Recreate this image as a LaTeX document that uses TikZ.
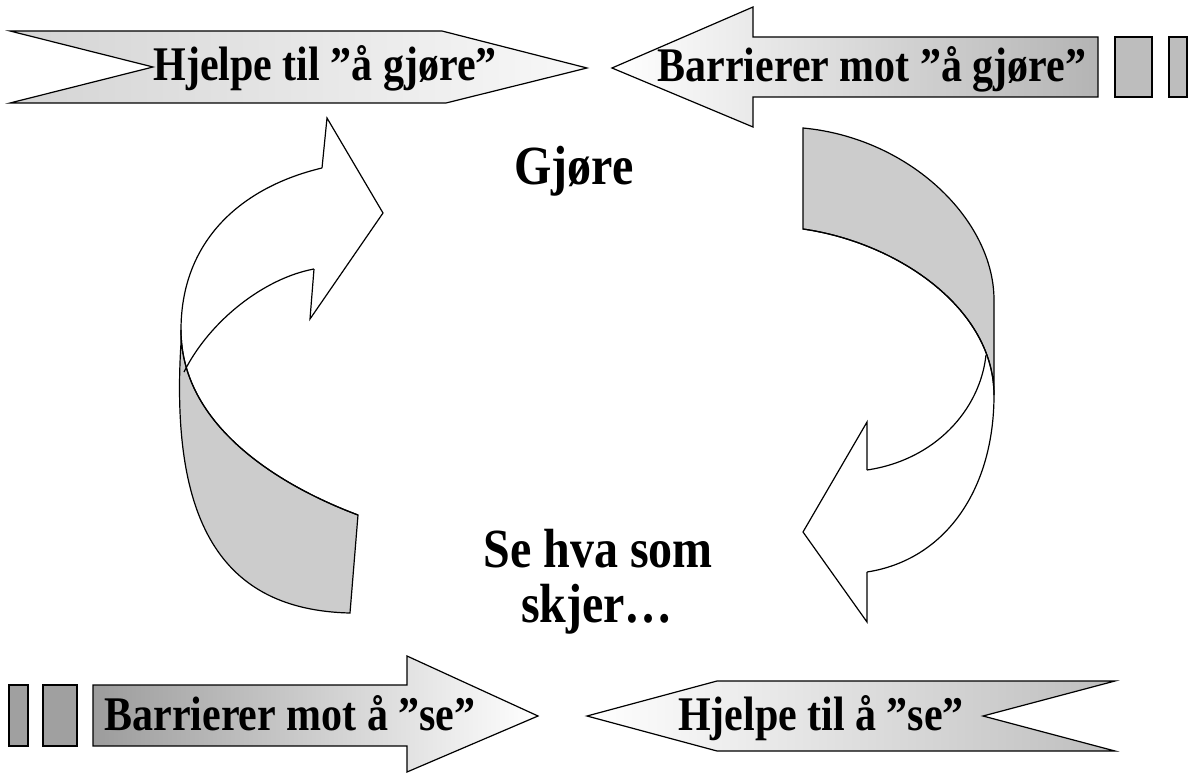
\documentclass[tikz,border=0pt]{standalone}
\usepackage{fontspec}
\usepackage{graphicx}
\setmainfont{Liberation Serif}
\definecolor{tlL}{HTML}{D4D4D4}
\definecolor{tlR}{HTML}{F8F8F8}
\definecolor{trR}{HTML}{B4B4B4}
\definecolor{blL}{HTML}{9C9C9C}
\definecolor{brR}{HTML}{BEBEBE}
\definecolor{boxA}{HTML}{BDBDBD}
\definecolor{boxB}{HTML}{A0A0A0}
\definecolor{ribbon}{HTML}{CCCCCC}
\newcommand\lblfont{\fontsize{42}{48}\selectfont\bfseries}
\newcommand\midfont{\fontsize{48}{56}\selectfont\bfseries}
\newcommand\tallt[1]{\scalebox{1}[1.15]{#1}}
\tikzset{
  outline/.style={draw=black, line width=1.2pt, line join=miter},
  lbl/.style={font=\lblfont, anchor=base, inner sep=0pt, text=black},
  midlbl/.style={font=\midfont, anchor=base, inner sep=0pt, text=black},
}
\begin{document}
\begin{tikzpicture}[x=1pt,y=-1pt]
\useasboundingbox (0,0) rectangle (1189,773);
\fill[white] (0,0) rectangle (1189,773);

% top-left arrow: Hjelpe til "å gjøre"
\path[outline, left color=tlL, right color=tlR]
  (10,31) -- (442,31) -- (587,68) -- (446,103) -- (10,103) -- (153,67) -- cycle;
\node[lbl] (hg) at (325,81) {\tallt{Hjelpe til ”å gjøre”}};

% top-right arrow: Barrierer mot "å gjøre"
\path[outline, left color=white, right color=trR]
  (612,68) -- (753,7) -- (753,37) -- (1098,37) -- (1098,97) -- (753,97) -- (753,127) -- cycle;
\path[outline, fill=boxA] (1115,37) rectangle (1152,97);
\path[outline, fill=boxA] (1169,37) rectangle (1187,97);
\node[lbl] (bg) at (872,82) {\tallt{Barrierer mot ”å gjøre”}};

% bottom-left arrow: Barrierer mot å "se"
\path[outline, left color=blL, right color=white]
  (93,685) -- (407,685) -- (407,656) -- (538,716) -- (407,772) -- (407,746) -- (93,746) -- cycle;
\path[outline, fill=boxB] (9,685) rectangle (28,746);
\path[outline, fill=boxB] (43,685) rectangle (77,746);
\node[lbl] (bs) at (290,730) {\tallt{Barrierer mot å ”se”}};

% bottom-right arrow: Hjelpe til å "se"
\path[outline, left color=white, right color=brR]
  (587,716) -- (717,681) -- (1115,681) -- (983,716) -- (1115,751) -- (717,751) -- cycle;
\node[lbl] (hs) at (821,730) {\tallt{Hjelpe til å ”se”}};

% centre texts
\node[midlbl] (gj) at (574,185) {\tallt{Gjøre}};
\node[midlbl] (se1) at (598,567) {\tallt{Se hva som}};
\node[midlbl] (se2) at (597,622) {\tallt{skjer…}};

% left curved arrow
\path[outline, fill=ribbon]
  (181,343) .. controls (170,520) and (220,610) .. (350,613) -- (358,515)
  .. controls (278,485) and (181,425) .. (181,330) -- cycle;
\draw[outline] (322,168) .. controls (242,187) and (181,240) .. (181,330)
  .. controls (181,425) and (278,485) .. (358,515);
\draw[outline] (322,168) -- (327,118) -- (383,213) -- (310,319) -- (314,269);
\draw[outline] (314,269) .. controls (265,278) and (210,320) .. (184,372);

% right curved arrow
\path[outline, fill=ribbon]
  (803,128) .. controls (910,138) and (994,220) .. (994,300) -- (994,395)
  .. controls (994,310) and (900,243) .. (803,229) -- cycle;
\draw[outline] (803,229) .. controls (900,243) and (994,310) .. (994,395)
  .. controls (994,490) and (945,560) .. (867,572);
\draw[outline] (986,355) .. controls (980,410) and (935,460) .. (867,470);
\draw[outline] (867,470) -- (867,422) -- (803,532) -- (867,622) -- (867,572);
\end{tikzpicture}
\end{document}
